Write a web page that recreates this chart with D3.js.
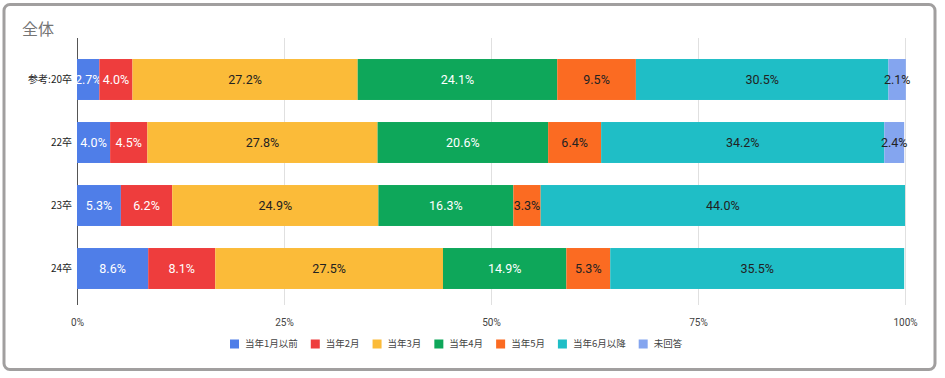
<!DOCTYPE html>
<html>
<head>
<meta charset="utf-8">
<title>全体</title>
<script src="https://cdn.jsdelivr.net/npm/d3@7"></script>
<style>
  body { margin: 0; background: #fff; }
  svg { display: block; font-family: Roboto, "Noto Sans CJK JP", sans-serif; }
</style>
</head>
<body>
<script>
// data (percent)
var years = ["参考:20卒", "22卒", "23卒", "24卒"];
var seriesNames = ["当年1月以前", "当年2月", "当年3月", "当年4月", "当年5月", "当年6月以降", "未回答"];
var jan = [2.7, 4.0, 5.3, 8.6];
var feb = [4.0, 4.5, 6.2, 8.1];
var mar = [27.2, 27.8, 24.9, 27.5];
var apr = [24.1, 20.6, 16.3, 14.9];
var may = [9.5, 6.4, 3.3, 5.3];
var jun = [30.5, 34.2, 44.0, 35.5];
var none = [2.1, 2.4, 0, 0];
var tickValues = [0, 25, 50, 75, 100];

var colours = ["#4f7ee8", "#ee3d3d", "#fbbb39", "#0ea75a", "#fb6b22", "#1fbec6", "#84a5ef"];
var labelColours = ["#fff", "#fff", "#222", "#fff", "#222", "#222", "#222"];

var allSeries = [jan, feb, mar, apr, may, jun, none];

// rows for the stack
var rows = years.map(function (y, i) {
  var r = { year: y };
  seriesNames.forEach(function (s, k) { r[s] = allSeries[k][i]; });
  return r;
});
var stacked = d3.stack().keys(seriesNames)(rows);

var W = 945, H = 378;
var svg = d3.select("body").append("svg").attr("width", W).attr("height", H);

// frame
svg.append("rect")
  .attr("x", 4).attr("y", 4.5).attr("width", 931).attr("height", 365)
  .attr("rx", 6)
  .attr("fill", "#fff").attr("stroke", "#a19f9f").attr("stroke-width", 3);

svg.append("text")
  .attr("x", 22).attr("y", 35)
  .attr("font-size", 16).attr("fill", "#757575")
  .text("全体");

var x = d3.scaleLinear().domain([0, 100]).range([77, 905]);
var y = d3.scaleBand().domain(years).range([48, 300]).paddingInner(0.35).paddingOuter(0.175);

// grid
svg.append("g").selectAll("line")
  .data(tickValues)
  .enter().append("line")
  .attr("x1", function (d) { return x(d) + 0.5; })
  .attr("x2", function (d) { return x(d) + 0.5; })
  .attr("y1", 38).attr("y2", 305)
  .attr("stroke", function (d) { return d === 0 ? "#555" : "#e0e0e0"; })
  .attr("stroke-width", 1);

// tick labels
var xAxis = svg.append("g").attr("transform", "translate(0,305)")
  .call(d3.axisBottom(x).tickValues(tickValues).tickSize(0).tickPadding(14)
    .tickFormat(function (d) { return d + "%"; }));
xAxis.select(".domain").remove();
xAxis.selectAll("text").attr("font-size", 10).attr("fill", "#444")
  .attr("font-family", "Roboto, sans-serif");

// bars
var groups = svg.append("g").selectAll("g")
  .data(stacked)
  .enter().append("g")
  .attr("fill", function (d, i) { return colours[i]; });

groups.selectAll("rect")
  .data(function (d) { return d; })
  .enter().append("rect")
  .attr("x", function (d) { return x(d[0]); })
  .attr("y", function (d) { return y(d.data.year); })
  .attr("width", function (d) { return Math.max(0, x(d[1]) - x(d[0])); })
  .attr("height", y.bandwidth());

// value labels
groups.each(function (s, i) {
  d3.select(this).selectAll("text")
    .data(s.filter(function (d) { return d[1] - d[0] > 0; }))
    .enter().append("text")
    .attr("x", function (d) { return (x(d[0]) + x(d[1])) / 2; })
    .attr("y", function (d) { return y(d.data.year) + y.bandwidth() / 2; })
    .attr("dy", "0.35em")
    .attr("text-anchor", "middle")
    .attr("font-size", 12.5)
    .attr("fill", labelColours[i])
    .text(function (d) { return (d[1] - d[0]).toFixed(1) + "%"; });
});

// row labels
svg.append("g").selectAll("text")
  .data(years)
  .enter().append("text")
  .attr("x", 72)
  .attr("y", function (d) { return y(d) + y.bandwidth() / 2; })
  .attr("dy", "0.35em")
  .attr("text-anchor", "end")
  .attr("font-size", 10)
  .attr("fill", "#222")
  .attr("font-family", "'Noto Sans CJK JP', sans-serif")
  .text(function (d) { return d; });

// legend
var legend = svg.append("g").attr("font-family", "'Noto Sans CJK JP', sans-serif");
var lx = 230;
seriesNames.forEach(function (name, i) {
  var g = legend.append("g").attr("transform", "translate(" + lx + ",344)");
  g.append("rect").attr("x", 0).attr("y", -4.5).attr("width", 9).attr("height", 9)
    .attr("fill", colours[i]);
  var t = g.append("text").attr("x", 15).attr("dy", "0.35em")
    .attr("font-size", 9.5).attr("fill", "#444").text(name);
  lx += 15 + t.node().getComputedTextLength() + 13;
});
</script>
</body>
</html>
